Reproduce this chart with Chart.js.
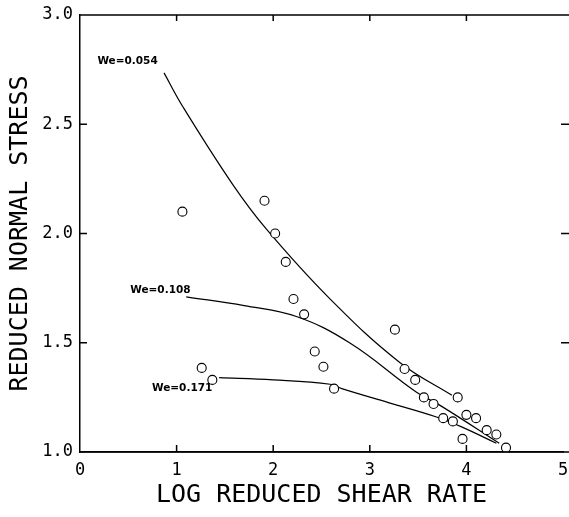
<!DOCTYPE html>
<html>
<head>
<meta charset="utf-8">
<script src="https://cdn.jsdelivr.net/npm/chart.js@4"></script>
<style>
  html, body { margin: 0; padding: 0; background: #fff; }
  #wrap { width: 569px; height: 517px; }
</style>
</head>
<body>
<div id="wrap"><canvas id="stressChart" width="569" height="517"></canvas></div>
<script>
// measured points (log reduced shear rate, reduced normal stress)
var pointX = [1.06, 1.91, 2.02, 2.13, 2.21, 2.32, 2.43, 2.52, 2.63, 1.26, 1.37,
              3.26, 3.36, 3.47, 3.56, 3.66, 3.76, 3.86, 3.91, 4.00, 4.10, 3.96, 4.21, 4.31, 4.41];
var pointY = [2.10, 2.15, 2.00, 1.87, 1.70, 1.63, 1.46, 1.39, 1.29, 1.385, 1.33,
              1.56, 1.38, 1.33, 1.25, 1.22, 1.155, 1.14, 1.25, 1.17, 1.155, 1.06, 1.10, 1.08, 1.02];

// fitted curves for each Weissenberg number
var curve054X = [0.87, 1.065, 1.58, 1.93, 2.59, 3.31, 3.85];
var curve054Y = [2.735, 2.58, 2.225, 2.02, 1.70, 1.41, 1.26];
var curve108X = [1.10, 1.7, 2.24, 2.79, 3.48, 3.74, 4.34];
var curve108Y = [1.71, 1.67, 1.62, 1.50, 1.275, 1.21, 1.04];
var curve171X = [1.44, 2.0, 2.59, 2.71, 3.2, 3.69, 3.95, 4.31];
var curve171Y = [1.34, 1.33, 1.31, 1.29, 1.225, 1.16, 1.115, 1.04];

var curveLabels = ['We=0.054', 'We=0.108', 'We=0.171'];
var labelX = [0.18, 0.52, 0.745];
var labelY = [2.79, 1.74, 1.29];

var xTicks = [0, 1, 2, 3, 4, 5];
var yTicks = [1.0, 1.5, 2.0, 2.5, 3.0];

function toXY(xs, ys) {
    return xs.map(function(x, i) { return {x: x, y: ys[i]}; });
}

function curveSet(xs, ys) {
    return {
        data: toXY(xs, ys),
        showLine: true,
        borderColor: '#000',
        borderWidth: 1.2,
        pointRadius: 0,
        tension: 0.4,
        order: 2
    };
}

// frame, inward ticks and curve labels
var framePlugin = {
    id: 'frame',
    afterDraw: function(chart) {
        var ctx = chart.ctx;
        var xs = chart.scales.x, ys = chart.scales.y;
        var a = chart.chartArea;
        ctx.save();
        ctx.strokeStyle = '#000';
        ctx.lineWidth = 1.5;
        ctx.beginPath();
        ctx.moveTo(a.left, a.top);
        ctx.lineTo(chart.width, a.top);
        ctx.moveTo(a.left, a.bottom);
        ctx.lineTo(chart.width, a.bottom);
        xTicks.forEach(function(t) {
            var px = xs.getPixelForValue(t);
            if (t > 0 && t < 5) {
                ctx.moveTo(px, a.bottom);
                ctx.lineTo(px, a.bottom - 7);
                ctx.moveTo(px, a.top);
                ctx.lineTo(px, a.top + 6);
            }
        });
        yTicks.forEach(function(t) {
            var py = ys.getPixelForValue(t);
            if (t > 1 && t < 3) {
                ctx.moveTo(a.left, py);
                ctx.lineTo(a.left + 7, py);
                ctx.moveTo(a.right - 2, py);
                ctx.lineTo(chart.width, py);
            }
        });
        ctx.stroke();

        ctx.fillStyle = '#000';
        ctx.font = 'bold 10.5px "DejaVu Sans"';
        ctx.textBaseline = 'middle';
        ctx.textAlign = 'left';
        curveLabels.forEach(function(txt, i) {
            ctx.fillText(txt, xs.getPixelForValue(labelX[i]), ys.getPixelForValue(labelY[i]));
        });
        ctx.restore();
    }
};

var ctx = document.getElementById('stressChart').getContext('2d');
var stressChart = new Chart(ctx, {
    type: 'scatter',
    data: {
        datasets: [
            {
                data: toXY(pointX, pointY),
                pointStyle: 'circle',
                pointRadius: 4.5,
                pointBorderWidth: 1.1,
                pointBorderColor: '#000',
                pointBackgroundColor: '#fff',
                showLine: false,
                order: 1
            },
            curveSet(curve054X, curve054Y),
            curveSet(curve108X, curve108Y),
            curveSet(curve171X, curve171Y)
        ]
    },
    options: {
        responsive: false,
        animation: false,
        layout: { padding: { top: 15, right: 6, left: 0, bottom: 0 } },
        plugins: {
            legend: { display: false },
            tooltip: { enabled: false }
        },
        scales: {
            x: {
                type: 'linear',
                min: 0,
                max: 5,
                afterFit: function(scale) {
                    scale.height = 65;
                    scale.paddingLeft = 0;
                    scale.paddingRight = 0;
                },
                afterBuildTicks: function(scale) {
                    scale.ticks = xTicks.map(function(v) { return {value: v}; });
                },
                grid: { display: false, drawTicks: false },
                border: { display: true, color: '#000', width: 1.5 },
                ticks: {
                    color: '#000',
                    padding: 8,
                    font: { family: '"DejaVu Sans Mono"', size: 17 },
                    callback: function(v) { return String(v); }
                },
                title: {
                    display: true,
                    text: 'LOG REDUCED SHEAR RATE',
                    color: '#000',
                    font: { family: '"DejaVu Sans Mono"', size: 25 },
                    padding: { top: 0, bottom: 7 }
                }
            },
            y: {
                type: 'linear',
                min: 1.0,
                max: 3.0,
                afterFit: function(scale) {
                    scale.width = 80;
                    scale.paddingTop = 0;
                    scale.paddingBottom = 0;
                },
                afterBuildTicks: function(scale) {
                    scale.ticks = yTicks.map(function(v) { return {value: v}; });
                },
                grid: { display: false, drawTicks: false },
                border: { display: true, color: '#000', width: 1.5 },
                ticks: {
                    color: '#000',
                    padding: 7,
                    font: { family: '"DejaVu Sans Mono"', size: 17 },
                    callback: function(v) { return v.toFixed(1); }
                },
                title: {
                    display: true,
                    text: 'REDUCED NORMAL STRESS',
                    color: '#000',
                    font: { family: '"DejaVu Sans Mono"', size: 25 },
                    padding: { top: 5, bottom: 0 }
                }
            }
        }
    },
    plugins: [framePlugin]
});
</script>
</body>
</html>
